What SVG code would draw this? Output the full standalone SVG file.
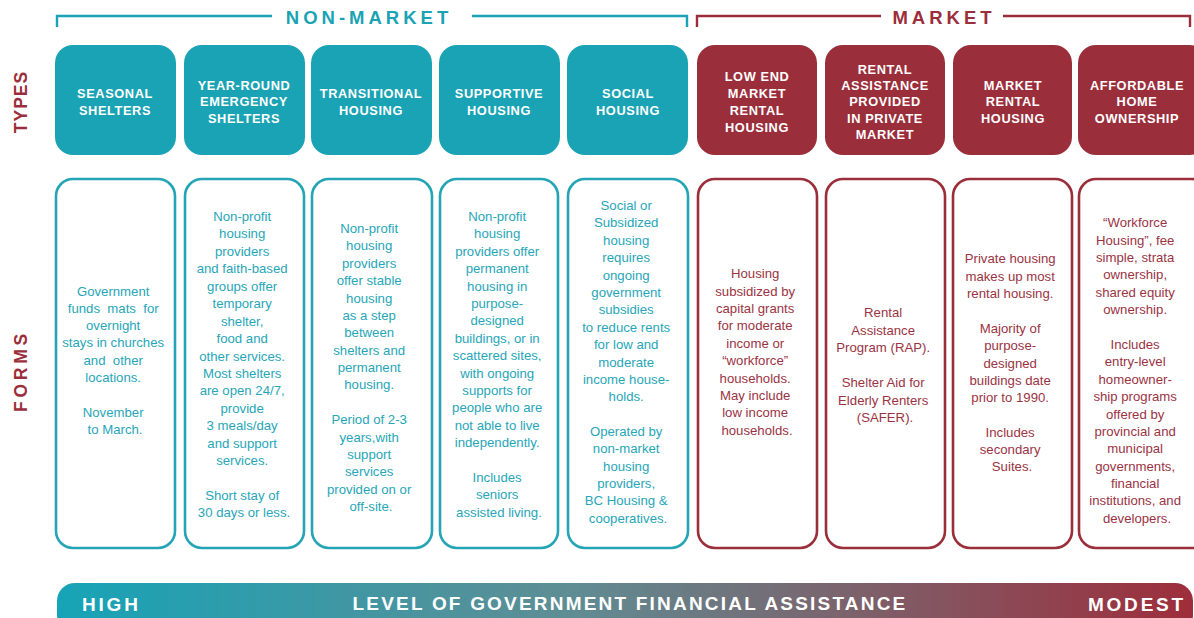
<svg xmlns="http://www.w3.org/2000/svg" width="1194" height="618" viewBox="0 0 1194 618">
  <defs>
    <linearGradient id="assist" x1="57" y1="0" x2="1194" y2="0" gradientUnits="userSpaceOnUse">
      <stop offset="0" stop-color="#16a4b7"/>
      <stop offset="0.45" stop-color="#5f8d94"/>
      <stop offset="1" stop-color="#9e2d3b"/>
    </linearGradient>
    <style>
      .teal-fill { fill: #1aa3b4; }
      .red-fill { fill: #9b2e3b; }
      .teal-line { fill: #ffffff; stroke: #24a5b6; stroke-width: 2.6; }
      .red-line { fill: #ffffff; stroke: #9b2e3b; stroke-width: 2.6; }
      .bracket-teal { fill: none; stroke: #1aa3b4; stroke-width: 2.4; }
      .bracket-red { fill: none; stroke: #9b2e3b; stroke-width: 2.4; }
      .type { font-family: "Liberation Sans", Arial, sans-serif; font-weight: bold; font-size: 12.8px; letter-spacing: 0.6px; fill: #ffffff; text-anchor: middle; }
      .form { font-family: "Liberation Sans", Arial, sans-serif; font-size: 13.2px; text-anchor: middle; }
      .form-teal { fill: #27a6b8; }
      .form-red { fill: #9b3343; }
      .head { font-family: "Liberation Sans", Arial, sans-serif; font-weight: bold; font-size: 18.5px; letter-spacing: 4px; text-anchor: middle; }
      .side { font-family: "Liberation Sans", Arial, sans-serif; font-weight: bold; font-size: 17.5px; fill: #9b2e3b; text-anchor: middle; }
      .bar { font-family: "Liberation Sans", Arial, sans-serif; font-weight: bold; font-size: 19px; fill: #ffffff; }
      .bar-end { letter-spacing: 2.8px; }
      .bar-title { letter-spacing: 2.2px; text-anchor: middle; }
    </style>
  </defs>

  <!-- group brackets -->
  <g id="non-market-bracket">
    <path class="bracket-teal" d="M57,27 V16 H272 M472,16 H687 V27"/>
    <text class="head" x="369" y="24" fill="#1aa3b4">NON-MARKET</text>
  </g>
  <g id="market-bracket">
    <path class="bracket-red" d="M697,27 V16 H881 M1003,16 H1190 V27"/>
    <text class="head" x="944" y="24" fill="#9b2e3b">MARKET</text>
  </g>

  <!-- row labels -->
  <text class="side" letter-spacing="1" transform="translate(27,102) rotate(-90)">TYPES</text>
  <text class="side" letter-spacing="3.8" transform="translate(27,371) rotate(-90)">FORMS</text>

  <!-- type boxes -->
  <g id="type-seasonal">
    <rect class="teal-fill" x="55" y="45" width="121" height="110" rx="18"/>
    <text class="type" x="115"><tspan x="115" y="98">SEASONAL</tspan><tspan x="115" y="115">SHELTERS</tspan></text>
  </g>
  <g id="type-emergency">
    <rect class="teal-fill" x="184" y="45" width="121" height="110" rx="18"/>
    <text class="type" x="244"><tspan x="244" y="90">YEAR-ROUND</tspan><tspan x="244" y="106">EMERGENCY</tspan><tspan x="244" y="123">SHELTERS</tspan></text>
  </g>
  <g id="type-transitional">
    <rect class="teal-fill" x="311" y="45" width="121" height="110" rx="18"/>
    <text class="type" x="371"><tspan x="371" y="98">TRANSITIONAL</tspan><tspan x="371" y="115">HOUSING</tspan></text>
  </g>
  <g id="type-supportive">
    <rect class="teal-fill" x="439" y="45" width="121" height="110" rx="18"/>
    <text class="type" x="499"><tspan x="499" y="98">SUPPORTIVE</tspan><tspan x="499" y="115">HOUSING</tspan></text>
  </g>
  <g id="type-social">
    <rect class="teal-fill" x="567" y="45" width="121" height="110" rx="18"/>
    <text class="type" x="628"><tspan x="628" y="98">SOCIAL</tspan><tspan x="628" y="115">HOUSING</tspan></text>
  </g>
  <g id="type-low-end-market">
    <rect class="red-fill" x="697" y="45" width="120" height="110" rx="18"/>
    <text class="type" x="757"><tspan x="757" y="81">LOW END</tspan><tspan x="757" y="98">MARKET</tspan><tspan x="757" y="115">RENTAL</tspan><tspan x="757" y="132">HOUSING</tspan></text>
  </g>
  <g id="type-rental-assistance">
    <rect class="red-fill" x="825" y="45" width="120" height="110" rx="18"/>
    <text class="type" x="885"><tspan x="885" y="74">RENTAL</tspan><tspan x="885" y="90">ASSISTANCE</tspan><tspan x="885" y="106">PROVIDED</tspan><tspan x="885" y="123">IN PRIVATE</tspan><tspan x="885" y="139">MARKET</tspan></text>
  </g>
  <g id="type-market-rental">
    <rect class="red-fill" x="953" y="45" width="119" height="110" rx="18"/>
    <text class="type" x="1013"><tspan x="1013" y="90">MARKET</tspan><tspan x="1013" y="106">RENTAL</tspan><tspan x="1013" y="123">HOUSING</tspan></text>
  </g>
  <g id="type-home-ownership">
    <rect class="red-fill" x="1078" y="45" width="130" height="110" rx="18"/>
    <text class="type" x="1137"><tspan x="1137" y="90">AFFORDABLE</tspan><tspan x="1137" y="106">HOME</tspan><tspan x="1137" y="123">OWNERSHIP</tspan></text>
  </g>

  <!-- form boxes -->
  <g id="form-seasonal">
    <rect class="teal-line" x="56" y="179" width="119" height="369" rx="17"/>
    <text class="form form-teal">
      <tspan x="115" y="296">Government</tspan>
      <tspan x="115" y="313">funds&#160; mats&#160; for</tspan>
      <tspan x="115" y="330">overnight</tspan>
      <tspan x="115" y="347">stays in churches</tspan>
      <tspan x="115" y="365">and&#160; other</tspan>
      <tspan x="115" y="382">locations.</tspan>
      <tspan x="115" y="417">November</tspan>
      <tspan x="115" y="434">to March.</tspan>
    </text>
  </g>
  <g id="form-emergency">
    <rect class="teal-line" x="185" y="179" width="119" height="369" rx="17"/>
    <text class="form form-teal">
      <tspan x="244" y="221">Non-profit</tspan>
      <tspan x="244" y="238">housing</tspan>
      <tspan x="244" y="256">providers</tspan>
      <tspan x="244" y="273">and faith-based</tspan>
      <tspan x="244" y="291">groups offer</tspan>
      <tspan x="244" y="308">temporary</tspan>
      <tspan x="244" y="326">shelter,</tspan>
      <tspan x="244" y="343">food and</tspan>
      <tspan x="244" y="361">other services.</tspan>
      <tspan x="244" y="378">Most shelters</tspan>
      <tspan x="244" y="395">are open 24/7,</tspan>
      <tspan x="244" y="413">provide</tspan>
      <tspan x="244" y="430">3 meals/day</tspan>
      <tspan x="244" y="448">and support</tspan>
      <tspan x="244" y="465">services.</tspan>
      <tspan x="244" y="500">Short stay of</tspan>
      <tspan x="244" y="517">30 days or less.</tspan>
    </text>
  </g>
  <g id="form-transitional">
    <rect class="teal-line" x="312" y="179" width="120" height="369" rx="17"/>
    <text class="form form-teal">
      <tspan x="371" y="233">Non-profit</tspan>
      <tspan x="371" y="250">housing</tspan>
      <tspan x="371" y="268">providers</tspan>
      <tspan x="371" y="285">offer stable</tspan>
      <tspan x="371" y="303">housing</tspan>
      <tspan x="371" y="320">as a step</tspan>
      <tspan x="371" y="337">between</tspan>
      <tspan x="371" y="355">shelters and</tspan>
      <tspan x="371" y="372">permanent</tspan>
      <tspan x="371" y="389">housing.</tspan>
      <tspan x="371" y="424">Period of 2-3</tspan>
      <tspan x="371" y="442">years,with</tspan>
      <tspan x="371" y="459">support</tspan>
      <tspan x="371" y="476">services</tspan>
      <tspan x="371" y="494">provided on or</tspan>
      <tspan x="371" y="511">off-site.</tspan>
    </text>
  </g>
  <g id="form-supportive">
    <rect class="teal-line" x="440" y="179" width="118" height="369" rx="17"/>
    <text class="form form-teal">
      <tspan x="499" y="221">Non-profit</tspan>
      <tspan x="499" y="238">housing</tspan>
      <tspan x="499" y="256">providers offer</tspan>
      <tspan x="499" y="273">permanent</tspan>
      <tspan x="499" y="291">housing in</tspan>
      <tspan x="499" y="308">purpose-</tspan>
      <tspan x="499" y="325">designed</tspan>
      <tspan x="499" y="343">buildings, or in</tspan>
      <tspan x="499" y="360">scattered sites,</tspan>
      <tspan x="499" y="378">with ongoing</tspan>
      <tspan x="499" y="395">supports for</tspan>
      <tspan x="499" y="412">people who are</tspan>
      <tspan x="499" y="430">not able to live</tspan>
      <tspan x="499" y="447">independently.</tspan>
      <tspan x="499" y="482">Includes</tspan>
      <tspan x="499" y="499">seniors</tspan>
      <tspan x="499" y="517">assisted living.</tspan>
    </text>
  </g>
  <g id="form-social">
    <rect class="teal-line" x="568" y="179" width="120" height="369" rx="17"/>
    <text class="form form-teal">
      <tspan x="628" y="210">Social or</tspan>
      <tspan x="628" y="227">Subsidized</tspan>
      <tspan x="628" y="245">housing</tspan>
      <tspan x="628" y="262">requires</tspan>
      <tspan x="628" y="280">ongoing</tspan>
      <tspan x="628" y="297">government</tspan>
      <tspan x="628" y="314">subsidies</tspan>
      <tspan x="628" y="332">to reduce rents</tspan>
      <tspan x="628" y="349">for low and</tspan>
      <tspan x="628" y="367">moderate</tspan>
      <tspan x="628" y="384">income house-</tspan>
      <tspan x="628" y="401">holds.</tspan>
      <tspan x="628" y="436">Operated by</tspan>
      <tspan x="628" y="453">non-market</tspan>
      <tspan x="628" y="471">housing</tspan>
      <tspan x="628" y="488">providers,</tspan>
      <tspan x="628" y="505">BC Housing &amp;</tspan>
      <tspan x="628" y="523">cooperatives.</tspan>
    </text>
  </g>
  <g id="form-low-end-market">
    <rect class="red-line" x="698" y="179" width="119" height="369" rx="17"/>
    <text class="form form-red">
      <tspan x="757" y="278">Housing</tspan>
      <tspan x="757" y="296">subsidized by</tspan>
      <tspan x="757" y="313">capital grants</tspan>
      <tspan x="757" y="330">for moderate</tspan>
      <tspan x="757" y="348">income or</tspan>
      <tspan x="757" y="365">“workforce”</tspan>
      <tspan x="757" y="383">households.</tspan>
      <tspan x="757" y="400">May include</tspan>
      <tspan x="757" y="417">low income</tspan>
      <tspan x="757" y="435">households.</tspan>
    </text>
  </g>
  <g id="form-rental-assistance">
    <rect class="red-line" x="826" y="179" width="119" height="369" rx="17"/>
    <text class="form form-red">
      <tspan x="885" y="317">Rental</tspan>
      <tspan x="885" y="335">Assistance</tspan>
      <tspan x="885" y="352">Program (RAP).</tspan>
      <tspan x="885" y="387">Shelter Aid for</tspan>
      <tspan x="885" y="405">Elderly Renters</tspan>
      <tspan x="885" y="422">(SAFER).</tspan>
    </text>
  </g>
  <g id="form-market-rental">
    <rect class="red-line" x="953" y="179" width="119" height="369" rx="17"/>
    <text class="form form-red">
      <tspan x="1012" y="263">Private housing</tspan>
      <tspan x="1012" y="281">makes up most</tspan>
      <tspan x="1012" y="298">rental housing.</tspan>
      <tspan x="1012" y="333">Majority of</tspan>
      <tspan x="1012" y="350">purpose-</tspan>
      <tspan x="1012" y="368">designed</tspan>
      <tspan x="1012" y="385">buildings date</tspan>
      <tspan x="1012" y="402">prior to 1990.</tspan>
      <tspan x="1012" y="437">Includes</tspan>
      <tspan x="1012" y="454">secondary</tspan>
      <tspan x="1012" y="471">Suites.</tspan>
    </text>
  </g>
  <g id="form-home-ownership">
    <rect class="red-line" x="1079" y="179" width="130" height="369" rx="17"/>
    <text class="form form-red">
      <tspan x="1137" y="227">“Workforce</tspan>
      <tspan x="1137" y="245">Housing”, fee</tspan>
      <tspan x="1137" y="262">simple, strata</tspan>
      <tspan x="1137" y="279">ownership,</tspan>
      <tspan x="1137" y="297">shared equity</tspan>
      <tspan x="1137" y="314">ownership.</tspan>
      <tspan x="1137" y="349">Includes</tspan>
      <tspan x="1137" y="366">entry-level</tspan>
      <tspan x="1137" y="384">homeowner-</tspan>
      <tspan x="1137" y="401">ship programs</tspan>
      <tspan x="1137" y="419">offered by</tspan>
      <tspan x="1137" y="436">provincial and</tspan>
      <tspan x="1137" y="453">municipal</tspan>
      <tspan x="1137" y="471">governments,</tspan>
      <tspan x="1137" y="488">financial</tspan>
      <tspan x="1137" y="505">institutions, and</tspan>
      <tspan x="1137" y="523">developers.</tspan>
    </text>
  </g>

  <!-- assistance scale bar -->
  <g id="assistance-scale">
    <rect x="57" y="583" width="1136" height="50" rx="18" fill="url(#assist)"/>
    <text class="bar bar-end" x="82" y="611">HIGH</text>
    <text class="bar bar-title" x="630" y="610">LEVEL OF GOVERNMENT FINANCIAL ASSISTANCE</text>
    <text class="bar bar-end" x="1186" y="611" text-anchor="end">MODEST</text>
  </g>
</svg>
